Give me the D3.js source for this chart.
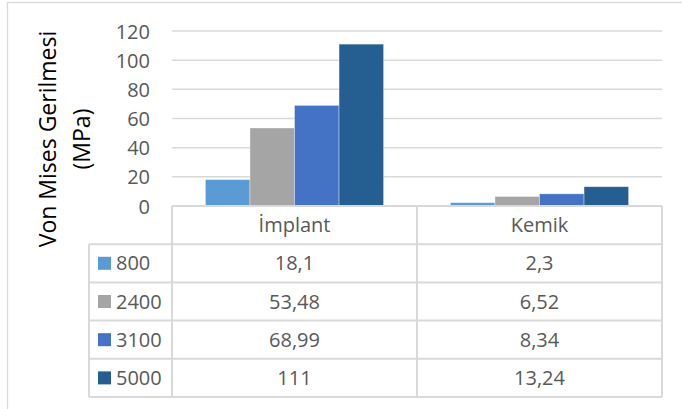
<!DOCTYPE html>
<html>
<head>
<meta charset="utf-8">
<script src="https://cdn.jsdelivr.net/npm/d3@7"></script>
<style>
  html, body { margin: 0; padding: 0; background: #fff; }
  svg { display: block; font-family: "Open Sans", sans-serif; }
</style>
</head>
<body>
<svg id="chart" width="682" height="409"></svg>
<script>
// Von Mises stress (MPa) per load level, for implant and bone
const categories = ["İmplant", "Kemik"];
const seriesNames = ["800", "2400", "3100", "5000"];
const values800  = [18.1, 2.3];
const values2400 = [53.48, 6.52];
const values3100 = [68.99, 8.34];
const values5000 = [111, 13.24];
const valueLabels800  = ["18,1", "2,3"];
const valueLabels2400 = ["53,48", "6,52"];
const valueLabels3100 = ["68,99", "8,34"];
const valueLabels5000 = ["111", "13,24"];
const yTicks = [0, 20, 40, 60, 80, 100, 120];
const colors = ["#5B9BD5", "#A5A5A5", "#4472C4", "#255E91"];

const seriesValues = [values800, values2400, values3100, values5000];
const seriesLabels = [valueLabels800, valueLabels2400, valueLabels3100, valueLabels5000];

const svg = d3.select("#chart");
const gridColor = "#D9D9D9";
const textColor = "#595959";

// chart frame
svg.append("rect")
  .attr("x", 7.5).attr("y", 2.5)
  .attr("width", 700).attr("height", 420)
  .attr("fill", "none").attr("stroke", gridColor).attr("stroke-width", 1.3);

const plot = { left: 172, right: 662, top: 31, bottom: 206 };

const y = d3.scaleLinear().domain([0, 120]).range([plot.bottom, plot.top]);
const x = d3.scaleBand().domain(categories).range([plot.left, plot.right]);
const xs = d3.scaleBand().domain(seriesNames).range([0, x.bandwidth()])
  .paddingInner(0).paddingOuter(0.75);

// gridlines
svg.append("g").selectAll("line")
  .data(yTicks.filter(d => d > 0))
  .join("line")
  .attr("x1", plot.left).attr("x2", plot.right)
  .attr("y1", d => y(d)).attr("y2", d => y(d))
  .attr("stroke", gridColor).attr("stroke-width", 1.5);

// y axis tick labels
const yAxis = d3.axisLeft(y).tickValues(yTicks).tickSize(0).tickPadding(0);
const gy = svg.append("g").attr("transform", "translate(150,0)").call(yAxis);
gy.select(".domain").remove();
gy.selectAll("text")
  .attr("font-family", "Open Sans, sans-serif")
  .attr("font-size", 20)
  .attr("fill", textColor)
  .attr("dy", "0.35em");

// bars
seriesNames.forEach((s, i) => {
  svg.append("g").selectAll("rect")
    .data(categories.map((c, j) => ({ c, v: seriesValues[i][j] })))
    .join("rect")
    .attr("x", d => x(d.c) + xs(s))
    .attr("width", xs.bandwidth())
    .attr("y", d => y(d.v))
    .attr("height", d => y(0) - y(d.v))
    .attr("fill", colors[i])
    .attr("stroke", "#ffffff").attr("stroke-opacity", 0.45).attr("stroke-width", 0.8);
});

// data table below the plot
const rowKeys = ["header"].concat(seriesNames);
const rows = d3.scaleBand().domain(rowKeys).range([plot.bottom, 397]);
const legendLeft = 89;
const table = svg.append("g");

// horizontal rules
table.append("line")
  .attr("x1", plot.left).attr("x2", plot.right)
  .attr("y1", rows("header")).attr("y2", rows("header"))
  .attr("stroke", gridColor).attr("stroke-width", 2);
seriesNames.forEach(s => {
  table.append("line")
    .attr("x1", legendLeft).attr("x2", plot.right)
    .attr("y1", rows(s)).attr("y2", rows(s))
    .attr("stroke", gridColor).attr("stroke-width", 2);
});
table.append("line")
  .attr("x1", legendLeft).attr("x2", plot.right)
  .attr("y1", rows.range()[1]).attr("y2", rows.range()[1])
  .attr("stroke", gridColor).attr("stroke-width", 2);

// vertical rules
table.append("line")
  .attr("x1", legendLeft).attr("x2", legendLeft)
  .attr("y1", rows(seriesNames[0])).attr("y2", rows.range()[1])
  .attr("stroke", gridColor).attr("stroke-width", 2);
[plot.left, x(categories[1]), plot.right].forEach(xv => {
  table.append("line")
    .attr("x1", xv).attr("x2", xv)
    .attr("y1", rows("header")).attr("y2", rows.range()[1])
    .attr("stroke", gridColor).attr("stroke-width", 2);
});

// category headers
table.selectAll("text.cat")
  .data(categories)
  .join("text")
  .attr("class", "cat")
  .attr("x", d => x(d) + x.bandwidth() / 2)
  .attr("y", rows("header") + rows.bandwidth() / 2)
  .attr("dy", "0.35em")
  .attr("text-anchor", "middle")
  .attr("font-size", 20)
  .attr("fill", textColor)
  .text(d => d);

// series rows: legend key + values
seriesNames.forEach((s, i) => {
  const cy = rows(s) + rows.bandwidth() / 2;
  table.append("rect")
    .attr("x", 98).attr("y", cy - 6.5)
    .attr("width", 13).attr("height", 13)
    .attr("fill", colors[i]);
  table.append("text")
    .attr("x", 116).attr("y", cy).attr("dy", "0.35em")
    .attr("font-size", 20).attr("fill", textColor)
    .text(s);
  table.selectAll(null)
    .data(categories.map((c, j) => ({ c, t: seriesLabels[i][j] })))
    .join("text")
    .attr("x", d => x(d.c) + x.bandwidth() / 2)
    .attr("y", cy).attr("dy", "0.35em")
    .attr("text-anchor", "middle")
    .attr("font-size", 20).attr("fill", textColor)
    .text(d => d.t);
});

// y axis title (two lines)
const title = svg.append("text")
  .attr("transform", "translate(48,139) rotate(-90)")
  .attr("text-anchor", "middle")
  .attr("font-size", 23)
  .attr("fill", "#000");
title.append("tspan").attr("x", 0).attr("dy", "0.35em").text("Von Mises Gerilmesi");
title.append("tspan").attr("x", 0).attr("dy", 34).text("(MPa)");
</script>
</body>
</html>
